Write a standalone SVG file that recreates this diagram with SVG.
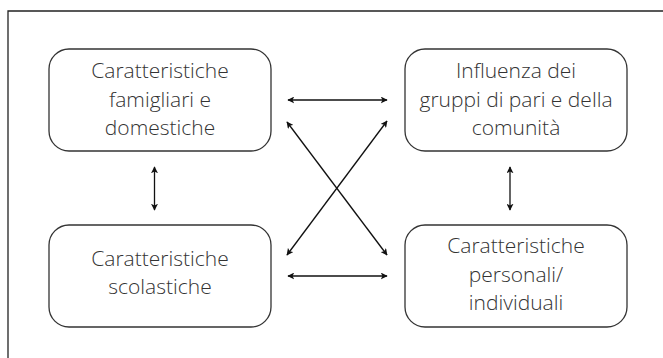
<svg xmlns="http://www.w3.org/2000/svg" width="663" height="358" viewBox="0 0 663 358">
<defs>
<marker id="ah" viewBox="0 0 10 10" refX="9" refY="5" markerWidth="7" markerHeight="7" markerUnits="userSpaceOnUse" orient="auto-start-reverse">
<path d="M0,0 L10,5 L0,10 L2.5,5 Z" fill="#111"/>
</marker>
</defs>
<style>
.box{fill:#fff;stroke:#333;stroke-width:1.3}
.t{font-family:"Open Sans","Noto Sans",sans-serif;font-size:21px;fill:#333;text-anchor:middle;font-weight:300}
.c{stroke:#111;stroke-width:1.3;fill:none;marker-start:url(#ah);marker-end:url(#ah)}
.frame{stroke:#222;stroke-width:1.3;fill:none}
</style>
<rect width="663" height="358" fill="#fff"/>
<path class="frame" d="M8,358 L8,11 L663,11"/>
<g id="n1">
<rect class="box" x="49" y="49" width="222" height="102" rx="20"/>
<text class="t" x="160" y="78">Caratteristiche</text>
<text class="t" x="160" y="107">famigliari e</text>
<text class="t" x="160" y="135">domestiche</text>
</g>
<g id="n2">
<rect class="box" x="405" y="49" width="222" height="102" rx="20"/>
<text class="t" x="516" y="78">Influenza dei</text>
<text class="t" x="516" y="107">gruppi di pari e della</text>
<text class="t" x="516" y="135">comunità</text>
</g>
<g id="n3">
<rect class="box" x="49" y="225" width="222" height="102" rx="20"/>
<text class="t" x="160" y="266">Caratteristiche</text>
<text class="t" x="160" y="294">scolastiche</text>
</g>
<g id="n4">
<rect class="box" x="405" y="225" width="222" height="102" rx="20"/>
<text class="t" x="516" y="253">Caratteristiche</text>
<text class="t" x="516" y="282">personali/</text>
<text class="t" x="516" y="310">individuali</text>
</g>
<g id="connectors">
<line class="c" x1="288" y1="100" x2="387" y2="100"/>
<line class="c" x1="288" y1="276" x2="387" y2="276"/>
<line class="c" x1="287" y1="122" x2="387" y2="255"/>
<line class="c" x1="287" y1="255" x2="387" y2="121"/>
<line class="c" x1="154.5" y1="167" x2="154.5" y2="210"/>
<line class="c" x1="510" y1="167" x2="510" y2="210"/>
</g>
</svg>
